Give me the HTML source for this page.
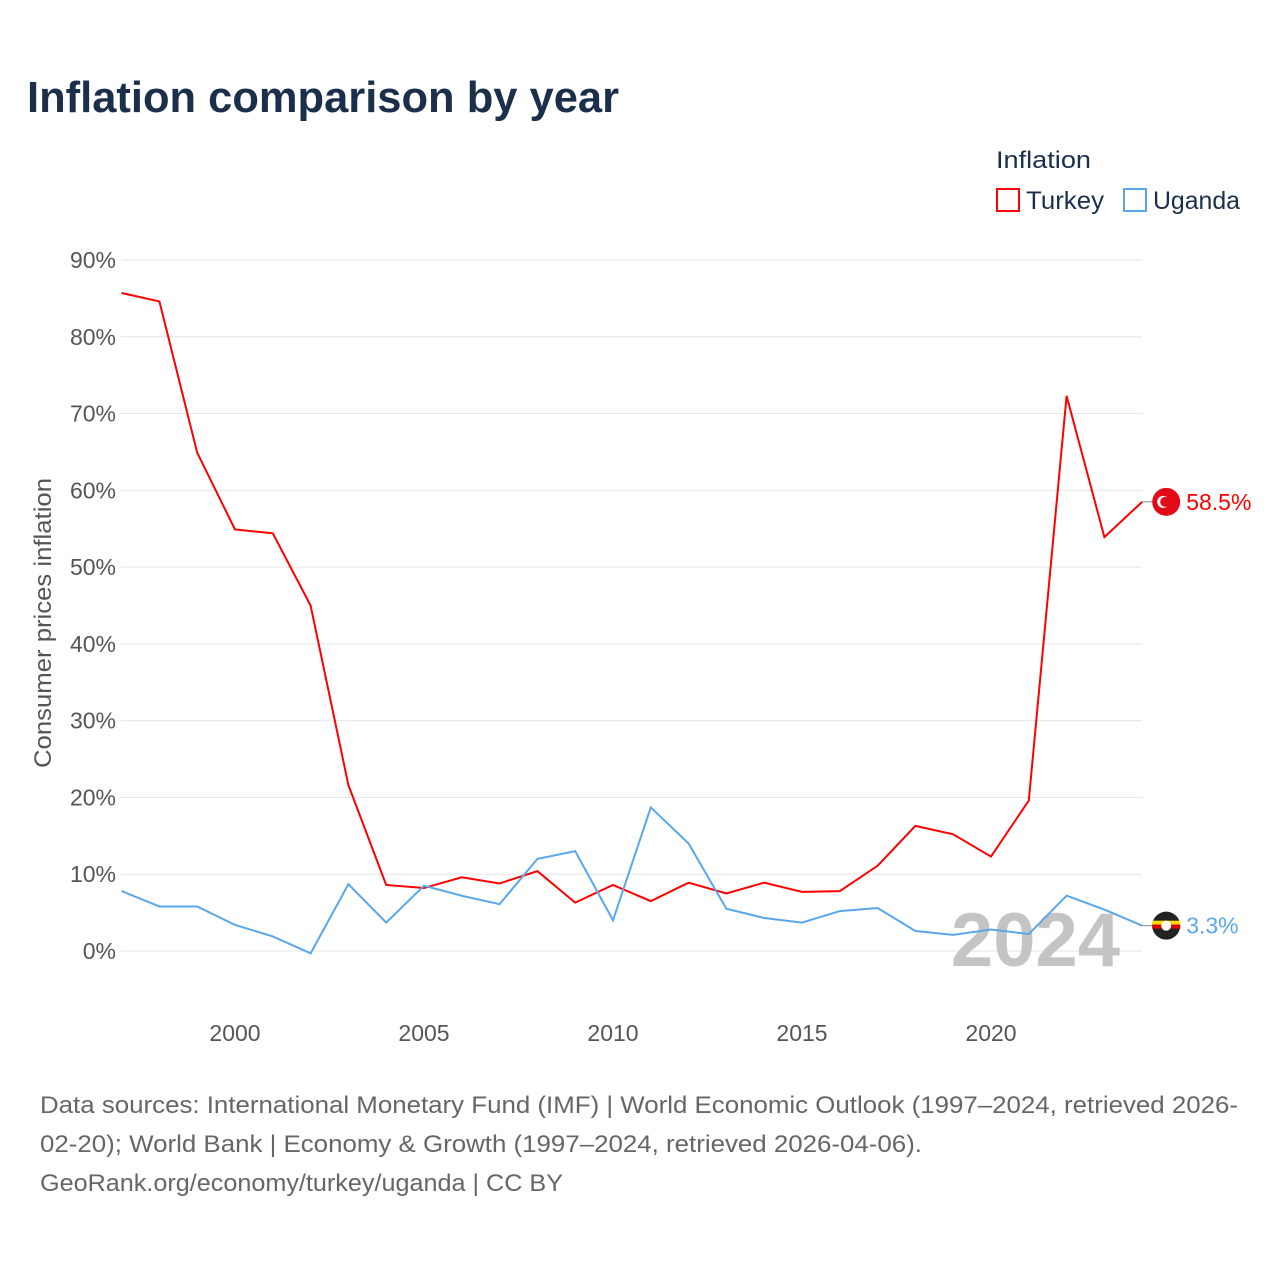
<!DOCTYPE html>
<html><head><meta charset="utf-8"><style>
body{margin:0;background:#fff;font-family:"Liberation Sans",sans-serif}
svg text{font-family:"Liberation Sans",sans-serif}
</style></head><body>
<svg width="1280" height="1280" xmlns="http://www.w3.org/2000/svg">
<text x="27" y="112" font-size="44" font-weight="bold" fill="#1b2f4b" textLength="592" lengthAdjust="spacingAndGlyphs">Inflation comparison by year</text>
<text x="996" y="168" font-size="24" fill="#1b2f4b" textLength="95" lengthAdjust="spacingAndGlyphs">Inflation</text>
<g><rect x="997" y="189" width="22" height="22" fill="none" stroke="#f00" stroke-width="2"/><text x="1026" y="209" font-size="25" fill="#1b2f4b" textLength="78" lengthAdjust="spacingAndGlyphs">Turkey</text></g>
<g><rect x="1124" y="189" width="22" height="22" fill="none" stroke="#5aa7eb" stroke-width="2"/><text x="1153" y="209" font-size="25" fill="#1b2f4b" textLength="87" lengthAdjust="spacingAndGlyphs">Uganda</text></g>
<text transform="translate(51,623) rotate(-90)" text-anchor="middle" font-size="24" fill="#555" textLength="290" lengthAdjust="spacingAndGlyphs">Consumer prices inflation</text>
<g id="grid"></g><g id="yt"></g><g id="xt"></g>
<text x="1120" y="966" text-anchor="end" font-size="76" font-weight="bold" fill="#c4c4c4">2024</text>
<g id="series"></g>
<text x="40" y="1113" font-size="24" fill="#666" textLength="1198" lengthAdjust="spacingAndGlyphs">Data sources: International Monetary Fund (IMF) | World Economic Outlook (1997–2024, retrieved 2026-</text>
<text x="40" y="1152" font-size="24" fill="#666" textLength="882" lengthAdjust="spacingAndGlyphs">02-20); World Bank | Economy &amp; Growth (1997–2024, retrieved 2026-04-06).</text>
<text x="40" y="1191" font-size="24" fill="#666" textLength="523" lengthAdjust="spacingAndGlyphs">GeoRank.org/economy/turkey/uganda | CC BY</text>
</svg>
<script>
const years=[1997,1998,1999,2000,2001,2002,2003,2004,2005,2006,2007,2008,2009,2010,2011,2012,2013,2014,2015,2016,2017,2018,2019,2020,2021,2022,2023,2024];
const turkey=[85.7,84.6,64.9,54.9,54.4,45.0,21.6,8.6,8.2,9.6,8.8,10.4,6.3,8.6,6.5,8.9,7.5,8.9,7.7,7.8,11.1,16.3,15.2,12.3,19.6,72.3,53.9,58.5];
const uganda=[7.8,5.8,5.8,3.4,1.9,-0.3,8.7,3.7,8.5,7.2,6.1,12.0,13.0,4.0,18.7,14.0,5.5,4.3,3.7,5.2,5.6,2.6,2.1,2.8,2.2,7.2,5.4,3.3];
const yTicks=[0,10,20,30,40,50,60,70,80,90];
const xTicks=[2000,2005,2010,2015,2020];
const NS="http://www.w3.org/2000/svg";
const X=y=>121.6+(y-1997)*37.8, Y=v=>951-v*7.678;
function mk(t,a,p){const e=document.createElementNS(NS,t);for(const k in a)e.setAttribute(k,a[k]);p.appendChild(e);return e;}
const g=document.getElementById('grid'),yt=document.getElementById('yt'),xt=document.getElementById('xt'),s=document.getElementById('series');
yTicks.forEach(v=>{
 const l=mk('line',{x1:121,x2:1142,y1:Y(v),y2:Y(v),stroke:'#e6e6e6','stroke-width':1},g);
 
 
 const t=mk('text',{x:116,y:Y(v)+8,'text-anchor':'end','font-size':23,fill:'#555'},yt);t.textContent=v+'%';
 
 
});
xTicks.forEach(v=>{
 const t=mk('text',{x:X(v),y:1041,'text-anchor':'middle','font-size':23,fill:'#555'},xt);t.textContent=v;
 
 
});
function line(vals,col,name){
 const p=mk('polyline',{points:vals.map((v,i)=>X(years[i])+','+Y(v)).join(' '),fill:'none',stroke:col,'stroke-width':2},s);
 
 
}
line(turkey,'#f00','turkey-line');
line(uganda,'#5aa7eb','uganda-line');
function endLabel(v,col,name,flag){
 const y=Y(v),x=X(2024);
 mk('line',{x1:x,x2:x+10,y1:y,y2:y,stroke:'#888'},s);
 const c=mk('circle',{cx:x+24,cy:y,r:14,fill:flag==='tr'?'#e30a17':'#222'},s);
 
 
 if(flag==='tr'){mk('circle',{cx:x+21,cy:y,r:6,fill:'#fff'},s);mk('circle',{cx:x+23,cy:y,r:5,fill:'#e30a17'},s);}
 else{mk('rect',{x:x+10,y:y-5,width:28,height:4,fill:'#fcdc04'},s);mk('rect',{x:x+10,y:y-1,width:28,height:4,fill:'#d90000'},s);mk('circle',{cx:x+24,cy:y,r:5,fill:'#fff'},s);}
 const t=mk('text',{x:x+44,y:y+8,'font-size':23,fill:col},s);t.textContent=v.toFixed(1)+'%';
 
 
}
endLabel(turkey[turkey.length-1],'#f00','turkey','tr');
endLabel(uganda[uganda.length-1],'#5aa7eb','uganda','ug');
</script>
</body></html>
